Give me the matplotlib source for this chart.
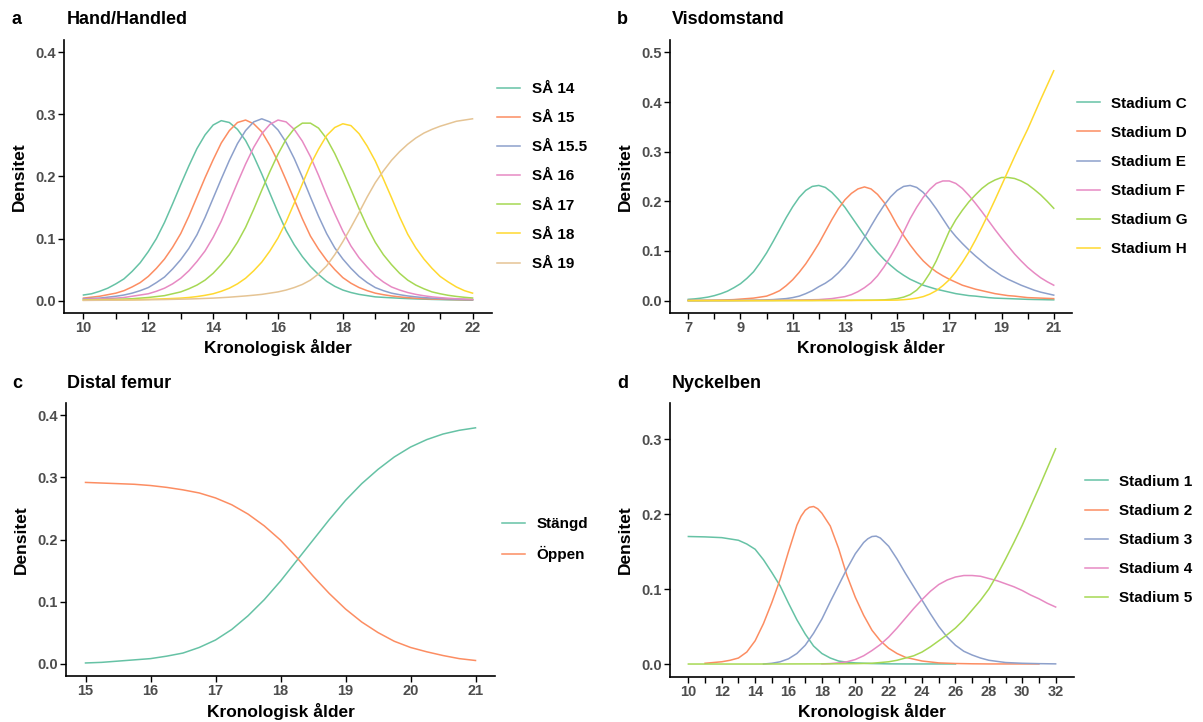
import numpy as np
import matplotlib
matplotlib.use('Agg')
import matplotlib.pyplot as plt

plt.rcParams['font.family'] = ['Liberation Sans', 'DejaVu Sans']

# Set2 palette (ggplot / RColorBrewer)
SET2 = ['#66C2A5', '#FC8D62', '#8DA0CB', '#E78AC3', '#A6D854', '#FFD92F', '#E5C494']

# ---- a: Hand/Handled, ages 10..22 step 0.25 (one row per year) ----
age_a = np.arange(10, 22.01, 0.25)
labels_a = ['SÅ 14', 'SÅ 15', 'SÅ 15.5', 'SÅ 16', 'SÅ 17', 'SÅ 18', 'SÅ 19']
sa14 = [0.009, 0.011, 0.015, 0.020,
        0.027, 0.035, 0.047, 0.061,
        0.079, 0.100, 0.126, 0.156,
        0.187, 0.217, 0.245, 0.267,
        0.283, 0.290, 0.287, 0.276,
        0.258, 0.233, 0.204, 0.173,
        0.142, 0.113, 0.090, 0.071,
        0.055, 0.042, 0.031, 0.023,
        0.017, 0.013, 0.010, 0.008,
        0.006, 0.0052, 0.0045, 0.0038,
        0.0032, 0.0027, 0.0023, 0.0019,
        0.0016, 0.0013, 0.0011, 0.0009,
        0.0008]
sa15 = [0.004, 0.0055, 0.007, 0.0095,
        0.012, 0.016, 0.022, 0.029,
        0.039, 0.052, 0.067, 0.086,
        0.108, 0.136, 0.167, 0.198,
        0.227, 0.254, 0.274, 0.287,
        0.291, 0.285, 0.272, 0.250,
        0.224, 0.194, 0.163, 0.132,
        0.104, 0.083, 0.065, 0.050,
        0.037, 0.028, 0.021, 0.016,
        0.012, 0.0095, 0.0075, 0.006,
        0.0047, 0.0038, 0.0031, 0.0026,
        0.0022, 0.0019, 0.0016, 0.0014,
        0.0012]
sa155 = [0.003, 0.0035, 0.004, 0.0055,
         0.007, 0.009, 0.012, 0.016,
         0.021, 0.029, 0.038, 0.051,
         0.066, 0.084, 0.106, 0.134,
         0.165, 0.196, 0.226, 0.253,
         0.274, 0.288, 0.293, 0.288,
         0.275, 0.255, 0.229, 0.199,
         0.167, 0.136, 0.108, 0.085,
         0.067, 0.052, 0.039, 0.029,
         0.021, 0.016, 0.012, 0.0095,
         0.0075, 0.006, 0.0048, 0.004,
         0.0033, 0.0027, 0.0022, 0.0018,
         0.0015]
sa16 = [0.002, 0.0025, 0.003, 0.0035,
        0.004, 0.005, 0.007, 0.009,
        0.011, 0.015, 0.020, 0.027,
        0.036, 0.048, 0.063, 0.080,
        0.102, 0.128, 0.159, 0.190,
        0.220, 0.247, 0.269, 0.284,
        0.291, 0.288, 0.276, 0.257,
        0.232, 0.202, 0.170, 0.140,
        0.112, 0.088, 0.069, 0.054,
        0.040, 0.030, 0.022, 0.017,
        0.013, 0.010, 0.0078, 0.006,
        0.0048, 0.0038, 0.003, 0.0025,
        0.002]
sa17 = [0.001, 0.0012, 0.0015, 0.0017,
        0.002, 0.0025, 0.003, 0.004,
        0.005, 0.0065, 0.008, 0.011,
        0.014, 0.019, 0.025, 0.033,
        0.044, 0.058, 0.074, 0.094,
        0.118, 0.147, 0.178, 0.208,
        0.236, 0.260, 0.277, 0.286,
        0.286, 0.278, 0.261, 0.237,
        0.209, 0.179, 0.148, 0.119,
        0.094, 0.074, 0.058, 0.044,
        0.033, 0.025, 0.019, 0.014,
        0.011, 0.0085, 0.0067, 0.0053,
        0.0042]
sa18 = [0.0005, 0.0006, 0.0007, 0.0008,
        0.001, 0.0012, 0.0014, 0.0017,
        0.002, 0.0024, 0.0029, 0.0034,
        0.004, 0.005, 0.0065, 0.0085,
        0.011, 0.015, 0.020, 0.027,
        0.036, 0.048, 0.062, 0.080,
        0.101, 0.127, 0.157, 0.188,
        0.219, 0.244, 0.266, 0.279,
        0.285, 0.282, 0.269, 0.249,
        0.225, 0.196, 0.166, 0.135,
        0.107, 0.085, 0.067, 0.052,
        0.039, 0.030, 0.022, 0.016,
        0.012]
sa19 = [0.0003, 0.0004, 0.0005, 0.0006,
        0.0007, 0.0008, 0.001, 0.0011,
        0.0013, 0.0015, 0.0017, 0.002,
        0.0023, 0.0026, 0.003, 0.0035,
        0.004, 0.0047, 0.0055, 0.0065,
        0.0075, 0.0087, 0.010, 0.012,
        0.014, 0.017, 0.021, 0.026,
        0.033, 0.043, 0.056, 0.074,
        0.095, 0.118, 0.142, 0.167,
        0.190, 0.209, 0.226, 0.240,
        0.252, 0.262, 0.270, 0.276,
        0.281, 0.285, 0.289, 0.291,
        0.293]

# ---- b: Visdomstand, ages 7..21 step 0.25 (one row per year) ----
age_b = np.arange(7, 21.01, 0.25)
labels_b = ['Stadium C', 'Stadium D', 'Stadium E', 'Stadium F', 'Stadium G', 'Stadium H']
st_c = [0.0025, 0.0035, 0.005, 0.007,
        0.010, 0.014, 0.019, 0.026,
        0.034, 0.045, 0.058, 0.076,
        0.096, 0.119, 0.143, 0.167,
        0.189, 0.208, 0.222, 0.230,
        0.232, 0.228, 0.218, 0.204,
        0.188, 0.169, 0.150, 0.131,
        0.113, 0.097, 0.083, 0.071,
        0.060, 0.051, 0.043, 0.037,
        0.031, 0.027, 0.023, 0.020,
        0.017, 0.014, 0.012, 0.010,
        0.009, 0.0075, 0.006, 0.005,
        0.0045, 0.004, 0.0035, 0.003,
        0.0025, 0.0022, 0.002, 0.0017,
        0.0015]
st_d = [0.0002, 0.0003, 0.0004, 0.0006,
        0.0008, 0.0011, 0.0015, 0.002,
        0.003, 0.004, 0.005, 0.007,
        0.009, 0.014, 0.020, 0.030,
        0.042, 0.057, 0.074, 0.094,
        0.115, 0.139, 0.163, 0.185,
        0.203, 0.216, 0.225, 0.229,
        0.225, 0.214, 0.198, 0.176,
        0.152, 0.131, 0.112, 0.095,
        0.080, 0.068, 0.058, 0.050,
        0.043, 0.037, 0.031, 0.027,
        0.023, 0.020, 0.017, 0.014,
        0.012, 0.010, 0.009, 0.0075,
        0.006, 0.0055, 0.005, 0.0045,
        0.004]
st_e = [0.0001, 0.0001, 0.0001, 0.0001,
        0.0002, 0.0002, 0.0003, 0.0004,
        0.0005, 0.0006, 0.0008, 0.001,
        0.0015, 0.002, 0.003, 0.004,
        0.006, 0.009, 0.014, 0.020,
        0.028, 0.035, 0.044, 0.056,
        0.070, 0.087, 0.106, 0.127,
        0.150, 0.172, 0.192, 0.209,
        0.222, 0.230, 0.232, 0.228,
        0.218, 0.203, 0.185, 0.165,
        0.145, 0.129, 0.115, 0.102,
        0.090, 0.079, 0.068, 0.059,
        0.050, 0.043, 0.037, 0.031,
        0.026, 0.021, 0.017, 0.014,
        0.011]
st_f = [0.0001, 0.0001, 0.0001, 0.0001,
        0.0001, 0.0001, 0.0002, 0.0002,
        0.0002, 0.0003, 0.0003, 0.0004,
        0.0005, 0.0006, 0.0007, 0.0008,
        0.001, 0.0012, 0.0015, 0.0017,
        0.002, 0.003, 0.004, 0.006,
        0.008, 0.012, 0.018, 0.026,
        0.036, 0.050, 0.068, 0.089,
        0.112, 0.138, 0.165, 0.188,
        0.208, 0.224, 0.236, 0.241,
        0.241, 0.236, 0.226, 0.212,
        0.196, 0.179, 0.161, 0.143,
        0.126, 0.110, 0.094, 0.080,
        0.067, 0.056, 0.046, 0.038,
        0.031]
st_g = [0.0, 0.0, 0.0, 0.0,
        0.0, 0.0, 0.0, 0.0,
        0.0001, 0.0001, 0.0001, 0.0001,
        0.0001, 0.0001, 0.0002, 0.0002,
        0.0002, 0.0002, 0.0003, 0.0003,
        0.0004, 0.0004, 0.0005, 0.0005,
        0.0006, 0.0006, 0.0007, 0.0007,
        0.0008, 0.001, 0.0015, 0.0025,
        0.004, 0.007, 0.012, 0.021,
        0.035, 0.055, 0.080, 0.110,
        0.140, 0.163, 0.182, 0.199,
        0.213, 0.226, 0.236, 0.243,
        0.248, 0.248, 0.246, 0.241,
        0.234, 0.224, 0.213, 0.200,
        0.186]
st_h = [0.0, 0.0, 0.0, 0.0,
        0.0, 0.0, 0.0, 0.0,
        0.0, 0.0, 0.0, 0.0,
        0.0, 0.0, 0.0, 0.0,
        0.0001, 0.0001, 0.0001, 0.0001,
        0.0002, 0.0002, 0.0002, 0.0003,
        0.0003, 0.0003, 0.0004, 0.0004,
        0.0005, 0.0006, 0.0007, 0.0008,
        0.001, 0.0018, 0.003, 0.005,
        0.008, 0.013, 0.020, 0.030,
        0.042, 0.058, 0.077, 0.098,
        0.122, 0.148, 0.175, 0.203,
        0.232, 0.261, 0.290, 0.318,
        0.345, 0.375, 0.405, 0.434,
        0.463]

# ---- c: Distal femur, ages 15..21 step 0.25 ----
age_c = np.arange(15, 21.01, 0.25)
labels_c = ['Stängd', 'Öppen']
stangd = [0.001, 0.002, 0.004, 0.006, 0.008, 0.012, 0.017, 0.026, 0.038, 0.055, 0.077, 0.103, 0.133,
          0.166, 0.199, 0.232, 0.263, 0.290, 0.313, 0.333, 0.349, 0.361, 0.370, 0.376, 0.380]
oppen = [0.292, 0.291, 0.290, 0.289, 0.287, 0.284, 0.280, 0.275, 0.267, 0.256, 0.241, 0.222, 0.199,
         0.171, 0.141, 0.113, 0.088, 0.067, 0.050, 0.036, 0.026, 0.019, 0.013, 0.008, 0.005]

# ---- d: Nyckelben (each stage covers its own age range) ----
labels_d = ['Stadium 1', 'Stadium 2', 'Stadium 3', 'Stadium 4', 'Stadium 5']
age_d1 = [10, 11, 12, 13, 13.5, 14, 14.5, 15, 15.5, 16, 16.5, 17, 17.5, 18, 18.5, 19, 19.5, 20,
          21, 22, 23, 24, 25, 26]
st_1 = [0.170, 0.1695, 0.1685, 0.165, 0.160, 0.153, 0.139, 0.122, 0.104, 0.081, 0.059, 0.040, 0.024,
        0.014, 0.008, 0.004, 0.0025, 0.0015, 0.0006, 0.0002, 0.0001, 0.0001, 0.0001, 0.0001]
age_d2 = [11, 12, 12.5, 13, 13.5, 14, 14.5, 15, 15.5, 16, 16.5, 16.75, 17, 17.25, 17.5, 17.75, 18,
          18.5, 19, 19.5, 20, 20.5, 21, 21.5, 22, 22.5, 23, 24, 25, 26, 27, 28, 29, 30, 31]
st_2 = [0.001, 0.003, 0.005, 0.008, 0.016, 0.031, 0.054, 0.082, 0.113, 0.150, 0.185, 0.197, 0.205,
        0.209, 0.210, 0.207, 0.201, 0.184, 0.154, 0.118, 0.089, 0.065, 0.045, 0.031, 0.021, 0.014,
        0.009, 0.004, 0.0015, 0.0007, 0.0003, 0.0001, 0.0001, 0.0001, 0.0001]
age_d3 = [14.5, 15, 15.5, 16, 16.5, 17, 17.5, 18, 18.5, 19, 19.5, 20, 20.5, 20.75, 21, 21.25, 21.5,
          22, 22.5, 23, 23.5, 24, 24.5, 25, 25.5, 26, 26.5, 27, 27.5, 28, 29, 30, 31, 32]
st_3 = [0.0, 0.001, 0.003, 0.007, 0.014, 0.025, 0.041, 0.060, 0.083, 0.105, 0.127, 0.147, 0.162,
        0.167, 0.170, 0.1705, 0.168, 0.157, 0.140, 0.121, 0.103, 0.085, 0.067, 0.050, 0.036, 0.025,
        0.017, 0.012, 0.008, 0.005, 0.002, 0.001, 0.0005, 0.0002]
age_d4 = [18, 18.5, 19, 19.5, 20, 20.5, 21, 21.5, 22, 22.5, 23, 23.5, 24, 24.5, 25, 25.5, 26, 26.5,
          27, 27.5, 28, 28.5, 29, 29.5, 30, 30.5, 31, 31.5, 32]
st_4 = [0.0002, 0.0006, 0.0015, 0.003, 0.006, 0.011, 0.018, 0.026, 0.036, 0.048, 0.061, 0.074, 0.086,
        0.097, 0.106, 0.112, 0.116, 0.118, 0.118, 0.117, 0.114, 0.111, 0.107, 0.103, 0.098, 0.092,
        0.087, 0.081, 0.076]
age_d5 = [10, 12, 14, 16, 18, 19, 20, 21, 21.5, 22, 22.5, 23, 23.5, 24, 24.5, 25, 25.5, 26, 26.5,
          27, 27.5, 28, 28.5, 29, 29.5, 30, 30.5, 31, 31.5, 32]
st_5 = [0.0, 0.0, 0.0, 0.0001, 0.0002, 0.0003, 0.0005, 0.001, 0.002, 0.003, 0.005, 0.008, 0.011,
        0.016, 0.023, 0.031, 0.039, 0.048, 0.059, 0.072, 0.085, 0.100, 0.119, 0.140, 0.162, 0.185,
        0.210, 0.235, 0.261, 0.287]

GREY = '#4D4D4D'


def style_axes(ax, xticks, xticklabels, xlim, yticks, ylim):
    for side in ['top', 'right']:
        ax.spines[side].set_visible(False)
    for side in ['left', 'bottom']:
        ax.spines[side].set_linewidth(1.2)
    ax.set_xlim(*xlim)
    ax.set_ylim(*ylim)
    ax.set_xticks(xticks, xticklabels)
    ax.set_yticks(yticks, ['%.1f' % v for v in yticks])
    ax.tick_params(length=4, width=1, labelcolor=GREY, labelsize=10.5, pad=2)
    for lab in ax.get_xticklabels() + ax.get_yticklabels():
        lab.set_fontweight('bold')
    ax.set_xlabel('Kronologisk ålder', fontsize=12.5, fontweight='bold', labelpad=3)
    ax.set_ylabel('Densitet', fontsize=12.5, fontweight='bold', labelpad=6)


def add_legend(ax, x_anchor):
    ax.legend(loc='center left', bbox_to_anchor=(x_anchor, 0.5), frameon=False,
              borderaxespad=0, borderpad=0, handlelength=1.5, handletextpad=0.75,
              labelspacing=0.99, prop={'size': 11, 'weight': 'bold'})


def panel_title(x, y, letter, title):
    fig.text(x, y, letter, fontsize=13, fontweight='bold', va='center', ha='left')
    fig.text(x + 55 / 1203, y, title, fontsize=13, fontweight='bold', va='center', ha='left')


fig = plt.figure(figsize=(12.03, 7.22), dpi=100)
lw = 1.1

# a
ax_a = fig.add_axes([64 / 1203, 1 - 313 / 722, 428 / 1203, 273 / 722])
for vals, lab, col in zip([sa14, sa15, sa155, sa16, sa17, sa18, sa19], labels_a, SET2):
    ax_a.plot(age_a, vals, color=col, lw=lw, label=lab)
style_axes(ax_a, list(range(10, 23)), [str(v) if v % 2 == 0 else '' for v in range(10, 23)],
           (9.4, 22.6), [0, 0.1, 0.2, 0.3, 0.4], (-0.02, 0.42))
add_legend(ax_a, 1.012)

# b
ax_b = fig.add_axes([670 / 1203, 1 - 313 / 722, 402 / 1203, 273 / 722])
for vals, lab, col in zip([st_c, st_d, st_e, st_f, st_g, st_h], labels_b, SET2):
    ax_b.plot(age_b, vals, color=col, lw=lw, label=lab)
style_axes(ax_b, list(range(7, 22)), [str(v) if v % 2 == 1 else '' for v in range(7, 22)],
           (6.3, 21.7), [0, 0.1, 0.2, 0.3, 0.4, 0.5], (-0.025, 0.525))
add_legend(ax_b, 1.012)

# c
ax_c = fig.add_axes([66 / 1203, 1 - 676 / 722, 429 / 1203, 273 / 722])
for vals, lab, col in zip([stangd, oppen], labels_c, SET2):
    ax_c.plot(age_c, vals, color=col, lw=lw, label=lab)
style_axes(ax_c, list(range(15, 22)), [str(v) for v in range(15, 22)],
           (14.7, 21.3), [0, 0.1, 0.2, 0.3, 0.4], (-0.02, 0.42))
add_legend(ax_c, 1.016)

# d
ax_d = fig.add_axes([670 / 1203, 1 - 677 / 722, 404 / 1203, 274 / 722])
d_series = [(age_d1, st_1), (age_d2, st_2), (age_d3, st_3), (age_d4, st_4), (age_d5, st_5)]
for (xs, vals), lab, col in zip(d_series, labels_d, SET2):
    ax_d.plot(xs, vals, color=col, lw=lw, label=lab)
style_axes(ax_d, list(range(10, 33)), [str(v) if v % 2 == 0 else '' for v in range(10, 33)],
           (8.9, 33.1), [0, 0.1, 0.2, 0.3], (-0.0173, 0.348))
add_legend(ax_d, 1.027)

panel_title(12 / 1203, 1 - 20 / 722, 'a', 'Hand/Handled')
panel_title(617 / 1203, 1 - 20 / 722, 'b', 'Visdomstand')
panel_title(12 / 1203, 1 - 384 / 722, 'c', 'Distal femur')
panel_title(617 / 1203, 1 - 384 / 722, 'd', 'Nyckelben')

fig.savefig('out.png', dpi=100)
